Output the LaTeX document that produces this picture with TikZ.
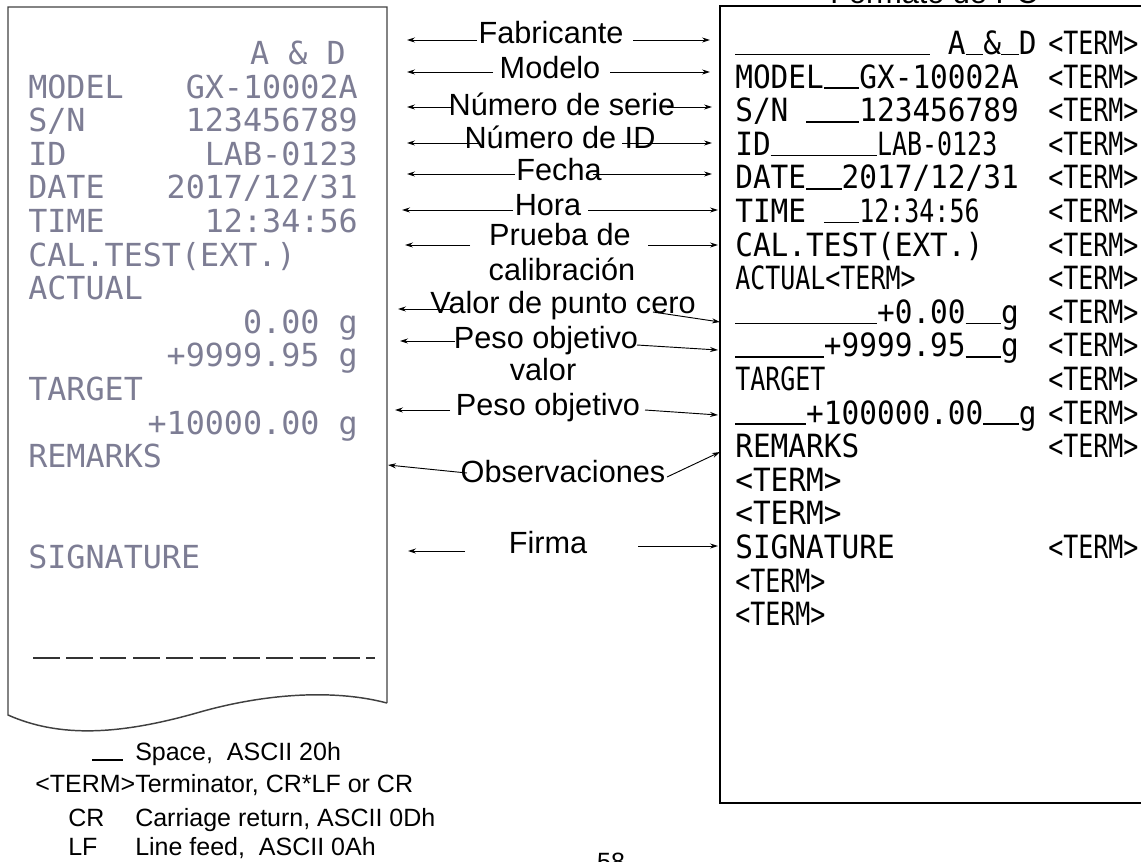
\documentclass[tikz,border=0pt]{standalone}
\usepackage{fontspec}
\setmainfont{Liberation Sans}
\newfontfamily\dotm{DejaVu Sans Mono}
\newfontfamily\pcm[FakeStretch=0.92]{DejaVu Sans Mono}
\newfontfamily\pcn[FakeStretch=0.78]{DejaVu Sans Mono}
\usetikzlibrary{arrows.meta}
\definecolor{dmgray}{RGB}{125,125,148}
\newcommand\us[1]{\rule[-0.6pt]{#1\fontcharwd\font`M}{1.1pt}}
\begin{document}
\begin{tikzpicture}[x=0.75pt,y=-0.75pt,
  lbl/.style={font=\fontsize{23pt}{27pt}\selectfont, inner sep=0pt, anchor=base},
  arr/.style={-{Stealth[length=6pt,width=3.8pt]}, line width=0.7pt},
  dmt/.style={font=\dotm\fontsize{23.8pt}{28pt}\selectfont, text=dmgray, inner sep=0pt},
  dml/.style={dmt, anchor=base west},
  dmr/.style={dmt, anchor=base east},
  pct/.style={font=\pcm\fontsize{24pt}{28pt}\selectfont, inner sep=0pt, anchor=base west},
  pcterm/.style={font=\pcn\fontsize{24pt}{28pt}\selectfont, inner sep=0pt, anchor=base west},
  leg/.style={font=\fontsize{18.75pt}{22pt}\selectfont, inner sep=0pt, anchor=base west},
  paper/.style={line width=1.1pt, draw=black!75}]
\useasboundingbox (0,0) rectangle (1141,861);
\clip (0,0) rectangle (1141,861);

% ---------- left printed paper ----------
\draw[paper] (387,703) -- (387,7) -- (8,7) -- (8,715)
  .. controls (60,738) and (120,735) .. (200,712)
  .. controls (260,695) and (330,688) .. (387,703);
\coordinate (dashA) at (33,658);
\coordinate (dashB) at (375,658);
\draw[line width=1.1pt, black!80, dash pattern=on 20pt off 5pt] (dashA) -- (dashB);

\node[dmr] (l0r) at (346,64.5) {A \& D};
\node[dml] (l1l) at (28,98.1) {MODEL};
\node[dmr] (l1r) at (358,98.1) {GX-10002A};
\node[dml] (l2l) at (28,131.7) {S/N};
\node[dmr] (l2r) at (358,131.7) {123456789};
\node[dml] (l3l) at (28,165.3) {ID};
\node[dmr] (l3r) at (358,165.3) {LAB-0123};
\node[dml] (l4l) at (28,198.9) {DATE};
\node[dmr] (l4r) at (358,198.9) {2017/12/31};
\node[dml] (l5l) at (28,232.5) {TIME};
\node[dmr] (l5r) at (358,232.5) {12:34:56};
\node[dml] (l6l) at (28,266.1) {CAL.TEST(EXT.)};
\node[dml] (l7l) at (28,299.7) {ACTUAL};
\node[dmr] (l8r) at (358,333.3) {0.00 g};
\node[dmr] (l9r) at (358,366.9) {+9999.95 g};
\node[dml] (l10l) at (28,400.5) {TARGET};
\node[dmr] (l11r) at (358,434.1) {+10000.00 g};
\node[dml] (l12l) at (28,467.7) {REMARKS};
\node[dml] (l15l) at (28,568.5) {SIGNATURE};

% ---------- right PC box ----------
\draw[line width=1.4pt, black] (1160,6) -- (720,6) -- (720,803) -- (1160,803);

\node[pct] (r1) at (735,54.5) {\us{11}~A\us{1}\&\us{1}D};
\node[pct] (r2) at (735,88.1) {MODEL\us{2}GX-10002A};
\node[pct] (r3) at (735,121.7) {S/N~\us{3}123456789};
\node[pct] (r4) at (735,155.3) {ID\us{6}{\pcn LAB-0123}};
\node[pct] (r5) at (735,188.9) {DATE\us{2}2017/12/31};
\node[pct] (r6) at (735,222.5) {TIME~\us{2}{\pcn 12:34:56}};
\node[pct] (r7) at (735,256.1) {CAL.TEST(EXT.)};
\node[pcterm] (r8) at (735,289.7) {ACTUAL<TERM>};
\node[pct] (r9) at (735,323.3) {\us{8}+0.00\us{2}g};
\node[pct] (r10) at (735,356.9) {\us{5}+9999.95\us{2}g};
\node[pcterm] (r11) at (735,390.5) {TARGET};
\node[pct] (r12) at (735,424.1) {\us{4}+100000.00\us{2}g};
\node[pct] (r13) at (735,457.7) {REMARKS};
\node[pct] (r14) at (735,491.3) {<TERM>};
\node[pct] (r15) at (735,524.9) {<TERM>};
\node[pct] (r16) at (735,558.5) {SIGNATURE};
\node[pcterm] (r17) at (735,592.1) {<TERM>};
\node[pcterm] (r18) at (735,625.7) {<TERM>};

\foreach \i/\yy in {1/54.5,2/88.1,3/121.7,4/155.3,5/188.9,6/222.5,7/256.1,8/289.7,9/323.3,10/356.9,11/390.5,12/424.1,13/457.7,16/558.5}
  \node[pcterm] (t\i) at (1048,\yy) {<TERM>};

% ---------- middle labels ----------
\node[lbl] (fab) at (551,43.3) {Fabricante};
\node[lbl] (mod) at (550,78) {Modelo};
\node[lbl] (nser) at (562,115) {Número de serie};
\node[lbl] (nid) at (560,148) {Número de ID};
\node[lbl] (fec) at (559,180) {Fecha};
\node[lbl] (hor) at (548,215) {Hora};
\node[lbl] (pru1) at (560,245) {Prueba de};
\node[lbl] (pru2) at (562,280) {calibración};
\node[lbl] (val) at (563,313) {Valor de punto cero};
\node[lbl] (peso1) at (546,348) {Peso objetivo};
\node[lbl] (peso2) at (543,380) {valor};
\node[lbl] (pobj) at (548,415) {Peso objetivo};
\node[lbl] (obs) at (563,482) {Observaciones};
\node[lbl] (fir) at (548,553) {Firma};

% ---------- arrows ----------
\foreach \n/\lsx/\lsy/\ltx/\lty/\rsx/\rsy/\rtx/\rty in {
  1/477/40/407/40/633/40/710/40,
  2/493/72/407/72/610/72/710/72,
  3/452/107/407/107/667/107/712/107,
  4/480/143/407/143/622/143/712/143,
  5/515/174/407/174/593/174/712/174,
  6/513/210/402/210/588/210/718/210,
  7/470/245/405/245/648/245/718/245,
  8/452/309/398/309/653/312/720/322,
  9/455/341/400/341/637/345/718/350,
  10/450/410/395/410/645/410/718/415,
  11/467/473/388/465/667/477/720/452,
  12/465/551/408/551/638/546/718/546}{
  \coordinate (ls\n) at (\lsx,\lsy);
  \coordinate (lt\n) at (\ltx,\lty);
  \coordinate (rs\n) at (\rsx,\rsy);
  \coordinate (rt\n) at (\rtx,\rty);
  \draw[arr] (ls\n) -- (lt\n);
  \draw[arr] (rs\n) -- (rt\n);
}

% ---------- legend ----------
\coordinate (spA) at (92,760);
\coordinate (spB) at (123,760);
\draw[line width=1.2pt] (spA) -- (spB);
\node[leg] (lg1) at (135,760) {Space,\ \ ASCII 20h};
\node[leg] (lg2) at (35,792) {<TERM>Terminator, CR*LF or CR};
\node[leg] (lg3a) at (68,826) {CR};
\node[leg] (lg3b) at (135,826) {Carriage return, ASCII 0Dh};
\node[leg] (lg4a) at (68,855) {LF};
\node[leg] (lg4b) at (135,855) {Line feed,\ \ ASCII 0Ah};

% ---------- cut-off texts ----------
\node[lbl, anchor=base west] (title2) at (830,3) {Formato de PC};
\node[leg, anchor=base] (page) at (611,870) {58};
\end{tikzpicture}
\end{document}
